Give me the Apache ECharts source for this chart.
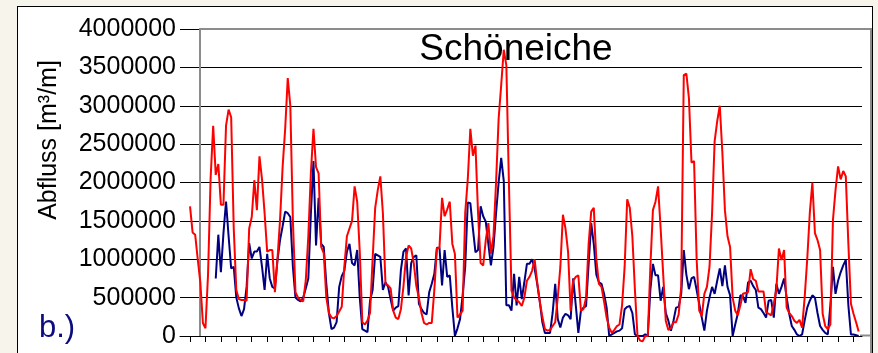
<!DOCTYPE html>
<html>
<head>
<meta charset="utf-8">
<script src="https://cdn.jsdelivr.net/npm/echarts@6/dist/echarts.min.js"></script>
<style>
  html, body { margin: 0; padding: 0; background: #f7f4ec; width: 878px; height: 353px; overflow: hidden; }
  #frame { position: absolute; left: 17px; top: 6px; width: 856px; height: 370px; background: #fff; border: 1px solid #000; box-sizing: border-box; }
  #chart { position: absolute; left: 0; top: 0; width: 878px; height: 353px; }
</style>
</head>
<body>
<div id="frame"></div>
<div id="chart"></div>
<script>
// Monthly discharge, Schöneiche [m³/m]; index = month number
const measured = [
  null,null,null,null,null,null,null,null,null,null,
  750000,1320000,830000,1340000,1750000,1300000,880000,900000,500000,360000,
  260000,350000,640000,1210000,1010000,1100000,1100000,1160000,900000,600000,
  1070000,750000,640000,620000,990000,1250000,1430000,1620000,1600000,1550000,
  900000,500000,470000,450000,500000,620000,750000,1600000,2280000,1180000,
  1800000,1200000,1160000,680000,300000,90000,110000,180000,640000,780000,
  850000,1100000,1200000,950000,920000,1120000,500000,90000,70000,50000,
  460000,600000,1070000,1050000,1030000,600000,700000,640000,480000,330000,
  370000,390000,860000,1100000,1140000,530000,950000,1030000,1050000,420000,
  350000,300000,280000,570000,680000,810000,1150000,1150000,660000,1120000,
  770000,790000,370000,0,100000,220000,530000,900000,1740000,1730000,
  1400000,1090000,1120000,1690000,1560000,1490000,1200000,920000,1160000,1600000,
  2000000,2320000,2020000,400000,400000,330000,810000,400000,770000,480000,
  700000,940000,940000,1000000,880000,680000,450000,180000,40000,40000,
  40000,300000,680000,220000,110000,240000,290000,270000,220000,750000,
  400000,40000,330000,370000,390000,940000,1470000,1200000,800000,700000,
  680000,550000,370000,0,20000,40000,60000,70000,100000,350000,
  380000,390000,300000,20000,0,0,0,20000,0,600000,
  940000,790000,790000,460000,640000,300000,200000,70000,200000,370000,
  380000,550000,1120000,800000,610000,750000,770000,600000,420000,240000,
  70000,330000,500000,640000,550000,720000,880000,650000,920000,640000,
  530000,0,150000,290000,530000,520000,430000,700000,720000,650000,
  600000,370000,350000,300000,240000,460000,470000,240000,680000,550000,
  640000,750000,500000,290000,130000,80000,20000,0,20000,200000,
  370000,460000,530000,500000,300000,130000,80000,40000,20000,400000,
  900000,550000,720000,830000,920000,990000,400000,20000,20000,10000,
  0
];

const simulated = [
  1690000,1350000,1320000,1000000,700000,170000,100000,800000,2050000,2740000,
  2100000,2240000,1710000,1710000,2740000,2950000,2850000,1400000,600000,480000,
  470000,470000,460000,1400000,1550000,2030000,1640000,2340000,2040000,1600000,
  1100000,1120000,1120000,570000,1000000,1510000,2200000,2700000,3360000,3000000,
  1500000,570000,500000,470000,450000,720000,1300000,2130000,2700000,2200000,
  2120000,1160000,1080000,500000,300000,240000,230000,260000,320000,380000,
  900000,1300000,1400000,1500000,1950000,1750000,1100000,180000,150000,200000,
  300000,1000000,1670000,1900000,2080000,1600000,680000,660000,620000,330000,
  240000,220000,350000,650000,1030000,1180000,1140000,950000,650000,500000,
  300000,170000,150000,170000,170000,600000,1140000,1150000,1800000,1560000,
  1650000,1750000,1200000,1070000,240000,280000,330000,1600000,2040000,2700000,
  2350000,2480000,1600000,950000,920000,1250000,1470000,1070000,1300000,2000000,
  2830000,3270000,3730000,3530000,2000000,590000,500000,470000,440000,390000,
  500000,720000,770000,850000,1000000,700000,450000,250000,90000,70000,
  80000,130000,180000,500000,900000,1580000,1400000,1100000,330000,720000,
  770000,790000,330000,350000,500000,1200000,1620000,1670000,1000000,680000,
  640000,450000,240000,110000,40000,80000,130000,150000,400000,900000,
  1780000,1670000,1300000,600000,0,-60000,-70000,0,0,900000,
  1640000,1750000,1950000,1400000,800000,200000,80000,100000,180000,180000,
  280000,640000,3400000,3420000,3100000,2260000,2280000,1000000,330000,260000,
  550000,640000,900000,1600000,2540000,2800000,3000000,2390000,1640000,1300000,
  1160000,500000,330000,270000,400000,550000,560000,570000,870000,740000,
  720000,580000,580000,580000,310000,290000,270000,420000,610000,1140000,
  990000,1120000,370000,300000,260000,200000,170000,210000,110000,500000,
  1000000,1600000,2000000,1340000,1250000,1120000,290000,130000,90000,150000,
  1510000,1900000,2210000,2040000,2150000,2080000,1200000,420000,290000,180000,
  60000
];

// Half-year tick marks along the month axis
const halfYearTicks = [];
for (let m = 0; m < simulated.length; m += 6) halfYearTicks.push(m);

const titleText = 'Schöneiche';
const yAxisTitle = 'Abfluss [m³/m]';
const panelLabel = 'b.)';

const FONT = '"Liberation Sans", Arial, Helvetica, sans-serif';

const toPairs = arr => arr.map((v, i) => [i, v]);

const chart = echarts.init(document.getElementById('chart'), null, { renderer: 'canvas' });

chart.setOption({
  backgroundColor: 'transparent',
  animation: false,
  grid: { left: 180, right: 16, top: 29, bottom: 17, containLabel: false },
  xAxis: {
    type: 'value',
    min: -3.9,
    max: 261.3,
    axisLine: { show: true, onZero: false, lineStyle: { color: '#000', width: 1 } },
    axisTick: { show: true, length: 6, inside: false, lineStyle: { color: '#000', width: 1 }, customValues: halfYearTicks },
    axisLabel: { show: false },
    splitLine: { show: false }
  },
  yAxis: {
    type: 'value',
    min: 0,
    max: 4000000,
    interval: 500000,
    axisLine: { show: false },
    axisTick: { show: false },
    axisLabel: {
      fontSize: 25,
      fontFamily: FONT,
      color: '#000',
      margin: 4,
      formatter: v => String(v)
    },
    splitLine: { show: true, lineStyle: { color: '#000', width: 1 } }
  },
  graphic: [
    // plot-area border (grey)
    { type: 'line', z: 1, shape: { x1: 200, y1: 29, x2: 200, y2: 336 }, style: { stroke: '#8c8c8c', lineWidth: 2 } },
    { type: 'line', z: 1, shape: { x1: 199, y1: 29, x2: 871, y2: 29 }, style: { stroke: '#8c8c8c', lineWidth: 2 } },
    { type: 'line', z: 1, shape: { x1: 871, y1: 28, x2: 871, y2: 353 }, style: { stroke: '#8c8c8c', lineWidth: 2 } },
    { type: 'line', z: 0, shape: { x1: 860, y1: 335.5, x2: 871, y2: 335.5 }, style: { stroke: '#8c8c8c', lineWidth: 2 } },
    {
      type: 'text', z: 5, x: 516, y: 50,
      style: { text: titleText, fontSize: 37, fontFamily: FONT, fill: '#000', align: 'center', verticalAlign: 'middle' }
    },
    {
      type: 'text', z: 5, x: 49, y: 140, rotation: Math.PI / 2,
      style: { text: yAxisTitle, fontSize: 25, fontFamily: FONT, fill: '#000', align: 'center', verticalAlign: 'middle' }
    },
    {
      type: 'text', z: 5, x: 39, y: 328,
      style: { text: panelLabel, fontSize: 31, fontFamily: FONT, fill: '#0c0c80', align: 'left', verticalAlign: 'middle' }
    }
  ],
  series: [
    {
      name: 'gemessen',
      type: 'line',
      data: toPairs(measured),
      showSymbol: false,
      connectNulls: false,
      lineStyle: { color: '#000080', width: 2 },
      itemStyle: { color: '#000080' },
      z: 3
    },
    {
      name: 'simuliert',
      type: 'line',
      data: toPairs(simulated),
      showSymbol: false,
      clip: false,
      lineStyle: { color: '#ff0000', width: 2 },
      itemStyle: { color: '#ff0000' },
      z: 4
    }
  ]
});
</script>
</body>
</html>
